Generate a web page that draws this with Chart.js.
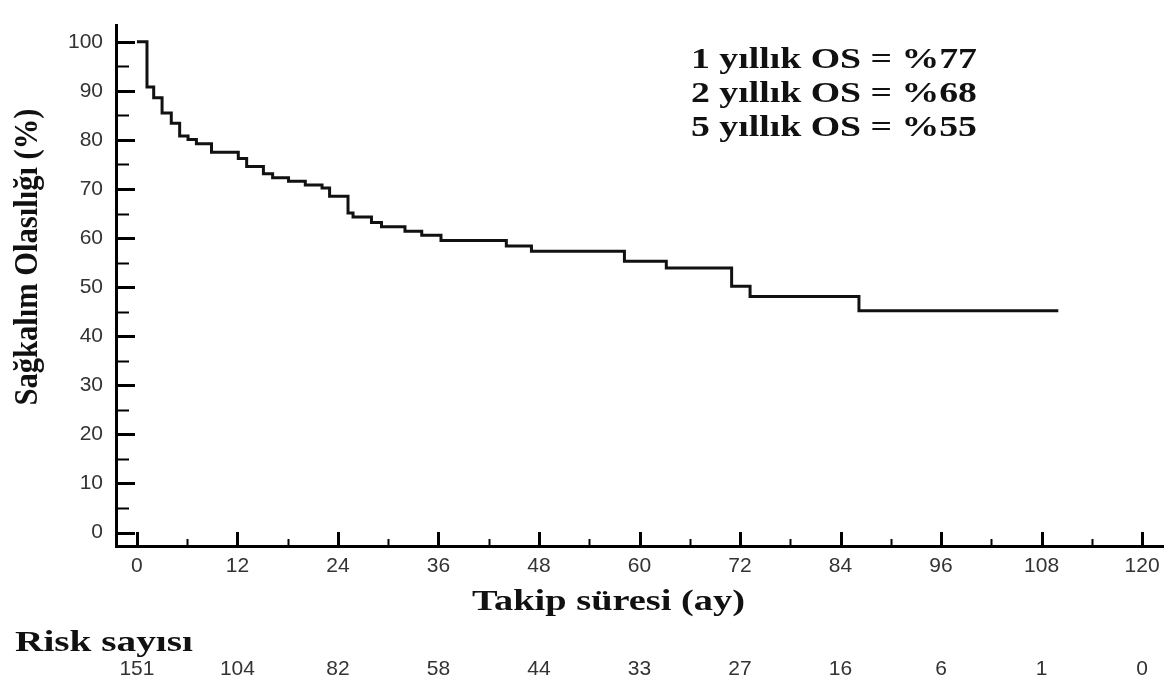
<!DOCTYPE html>
<html lang="tr">
<head>
<meta charset="utf-8">
<title>Genel sağkalım</title>
<script src="https://cdn.jsdelivr.net/npm/chart.js@4.4.1/dist/chart.umd.min.js"></script>
<style>
    html, body { margin: 0; padding: 0; background: #fff; }
    #wrap { width: 1168px; height: 684px; position: relative; }
</style>
</head>
<body>
<div id="wrap"><canvas id="kmChart"></canvas></div>
<script>
// Kaplan-Meier steps (months, % surviving)
const times = [0, 1.2, 2.0, 3.0, 4.1, 5.1, 6.1, 7.1, 8.9, 12.1, 13.1, 15.1, 16.2, 18.1, 20.1, 22.1,
    23.0, 25.2, 25.8, 28.0, 29.2, 32.0, 34.0, 36.3, 44.1, 47.1, 58.2, 63.2, 71.0, 73.2, 86.2, 110];
const survival = [100, 90.8, 88.6, 85.5, 83.4, 80.8, 80.1, 79.2, 77.5, 76.2, 74.6, 73.1, 72.3, 71.6, 70.8, 70.2,
    68.5, 65.1, 64.3, 63.2, 62.3, 61.4, 60.6, 59.5, 58.4, 57.3, 55.3, 53.9, 50.2, 48.1, 45.2, 45.2];

const xTicks = [0, 12, 24, 36, 48, 60, 72, 84, 96, 108, 120];
const yTicks = [0, 10, 20, 30, 40, 50, 60, 70, 80, 90, 100];
const riskCounts = [151, 104, 82, 58, 44, 33, 27, 16, 6, 1, 0];
const osLines = ['1 yıllık OS = %77', '2 yıllık OS = %68', '5 yıllık OS = %55'];

const xTitle = 'Takip süresi (ay)';
const yTitle = 'Sağkalım Olasılığı (%)';
const riskTitle = 'Risk sayısı';

const serif = "'Liberation Serif', 'Times New Roman', serif";
const sans = "'Liberation Sans', Arial, sans-serif";

// draw text squeezed/stretched to a given width (the source image is stretched sideways)
function fitText(ctx, text, left, y, width) {
    const w = ctx.measureText(text).width;
    ctx.save();
    ctx.translate(left, y);
    ctx.scale(width / w, 1);
    ctx.textAlign = 'left';
    ctx.fillText(text, 0, 0);
    ctx.restore();
}

const innerTicks = {
    id: 'innerTicks',
    afterDraw(chart) {
        const { ctx, chartArea, scales: { x, y } } = chart;
        ctx.save();
        ctx.strokeStyle = '#000';
        ctx.lineCap = 'butt';

        const line = (x1, y1, x2, y2, w) => {
            ctx.lineWidth = w;
            ctx.beginPath();
            ctx.moveTo(x1, y1);
            ctx.lineTo(x2, y2);
            ctx.stroke();
        };

        xTicks.forEach((v, i) => {
            const px = Math.round(x.getPixelForValue(v)) + 0.5;
            line(px, chartArea.bottom, px, chartArea.bottom - 14, 3);
            if (i < xTicks.length - 1) {
                const mx = Math.round(x.getPixelForValue(v + 6)) + 0.5;
                line(mx, chartArea.bottom, mx, chartArea.bottom - 7, 2);
            }
        });
        yTicks.forEach((v, i) => {
            const py = Math.round(y.getPixelForValue(v)) + 0.5;
            line(chartArea.left, py, chartArea.left + 19, py, 3);
            if (i < yTicks.length - 1) {
                const my = Math.round(y.getPixelForValue(v + 5)) + 0.5;
                line(chartArea.left, my, chartArea.left + 13, my, 2);
            }
        });
        ctx.restore();
    }
};

const chartTexts = {
    id: 'chartTexts',
    afterDraw(chart) {
        const { ctx, scales: { x } } = chart;
        ctx.save();
        ctx.fillStyle = '#111';
        ctx.textBaseline = 'middle';

        // OS annotations
        ctx.font = 'bold 30px ' + serif;
        const osY = [60, 94, 128];
        osLines.forEach((t, i) => fitText(ctx, t, 691, osY[i], 286));

        // axis titles
        ctx.font = 'bold 30px ' + serif;
        fitText(ctx, xTitle, 472, 602, 273);
        fitText(ctx, riskTitle, 15, 643, 178);

        ctx.save();
        ctx.font = 'bold 27px ' + serif;
        const len = ctx.measureText(yTitle).width;
        ctx.translate(28, 257);
        ctx.rotate(-Math.PI / 2);
        ctx.scale(297 / len, 1.25);
        ctx.textAlign = 'center';
        ctx.fillText(yTitle, 0, 0);
        ctx.restore();

        // numbers at risk under each tick
        ctx.fillStyle = '#333';
        ctx.font = '21px ' + sans;
        ctx.textAlign = 'center';
        riskCounts.forEach((n, i) => {
            ctx.fillText(String(n), x.getPixelForValue(xTicks[i]), 669);
        });
        ctx.restore();
    }
};

document.addEventListener('DOMContentLoaded', () => {
    const points = times.map((t, i) => ({ x: t, y: survival[i] }));

    new Chart(document.getElementById('kmChart'), {
        type: 'line',
        data: {
            datasets: [{
                label: 'Genel sağkalım',
                data: points,
                borderColor: '#111',
                borderWidth: 3,
                stepped: true,
                pointRadius: 0,
                fill: false
            }]
        },
        options: {
            responsive: true,
            maintainAspectRatio: false,
            animation: false,
            layout: { padding: { top: 5, right: 5, left: 0, bottom: 0 } },
            plugins: {
                legend: { display: false },
                tooltip: { enabled: false }
            },
            scales: {
                x: {
                    type: 'linear',
                    min: -2.5,
                    max: 122.5,
                    afterBuildTicks: (axis) => { axis.ticks = xTicks.map(v => ({ value: v })); },
                    afterFit: (axis) => { axis.height = 138; },
                    grid: { display: false, drawTicks: false },
                    border: { display: true, color: '#000', width: 3 },
                    ticks: {
                        color: '#333',
                        padding: 8,
                        maxRotation: 0,
                        autoSkip: false,
                        font: { family: sans, size: 21 }
                    }
                },
                y: {
                    type: 'linear',
                    min: -2.75,
                    max: 103.3,
                    afterBuildTicks: (axis) => { axis.ticks = yTicks.map(v => ({ value: v })); },
                    afterFit: (axis) => { axis.width = 116; },
                    grid: { display: false, drawTicks: false },
                    border: { display: true, color: '#000', width: 3 },
                    ticks: {
                        color: '#333',
                        padding: 13,
                        autoSkip: false,
                        font: { family: sans, size: 21 }
                    }
                }
            }
        },
        plugins: [innerTicks, chartTexts]
    });
});
</script>
</body>
</html>
